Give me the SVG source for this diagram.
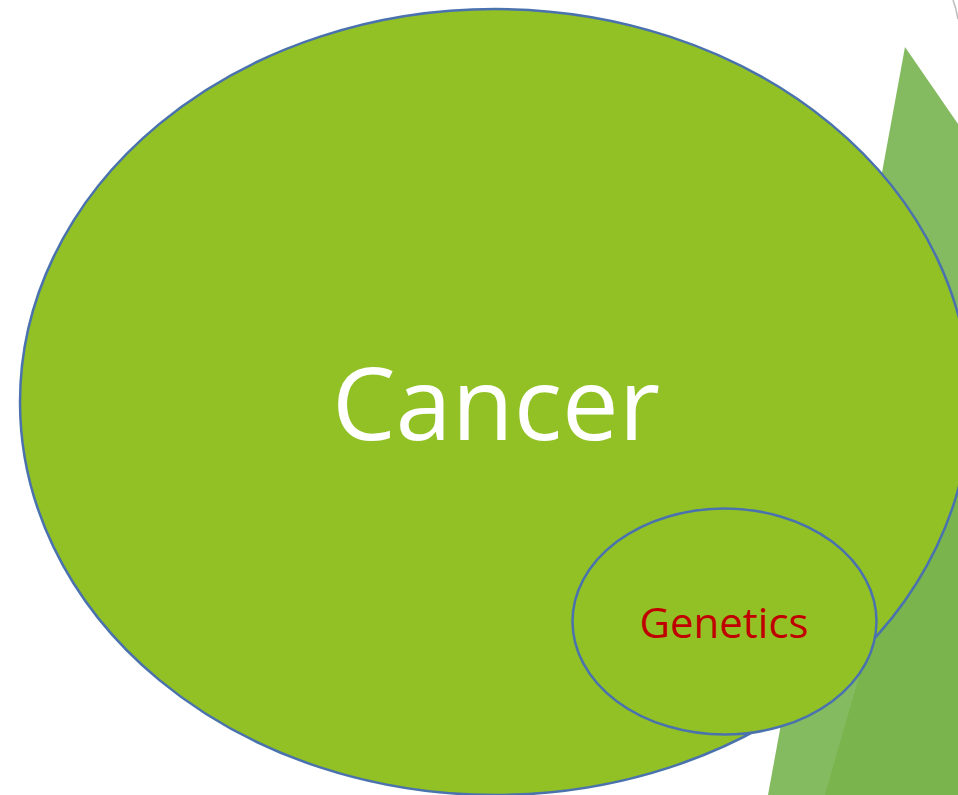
<svg xmlns="http://www.w3.org/2000/svg" width="958" height="795" viewBox="0 0 958 795">
<style>
.node { fill: #92C125; stroke: #4A72AE; stroke-width: 2.5; }
.lbl { font-family: "Open Sans", "Noto Sans", sans-serif; text-anchor: middle; }
</style>
<rect width="958" height="795" fill="#FFFFFF"/>
<g id="background">
<path d="M953,0 Q956,8 958,19" fill="none" stroke="#BDBDBD" stroke-width="1.5"/>
<polygon points="905,47 958,124 958,795 768,795" fill="#84BA60"/>
<polygon points="825,795 958,332 958,795" fill="#7AB44C"/>
</g>
<g id="connectors"></g>
<g id="cancer">
<ellipse class="node" cx="495" cy="402" rx="475" ry="393"/>
<text class="lbl" x="496" y="440" font-size="101" fill="#FFFFFF">Cancer</text>
</g>
<g id="genetics">
<ellipse class="node" cx="724.5" cy="621.5" rx="152" ry="113"/>
<text class="lbl" x="724" y="638" font-size="42" fill="#C00000">Genetics</text>
</g>
</svg>
